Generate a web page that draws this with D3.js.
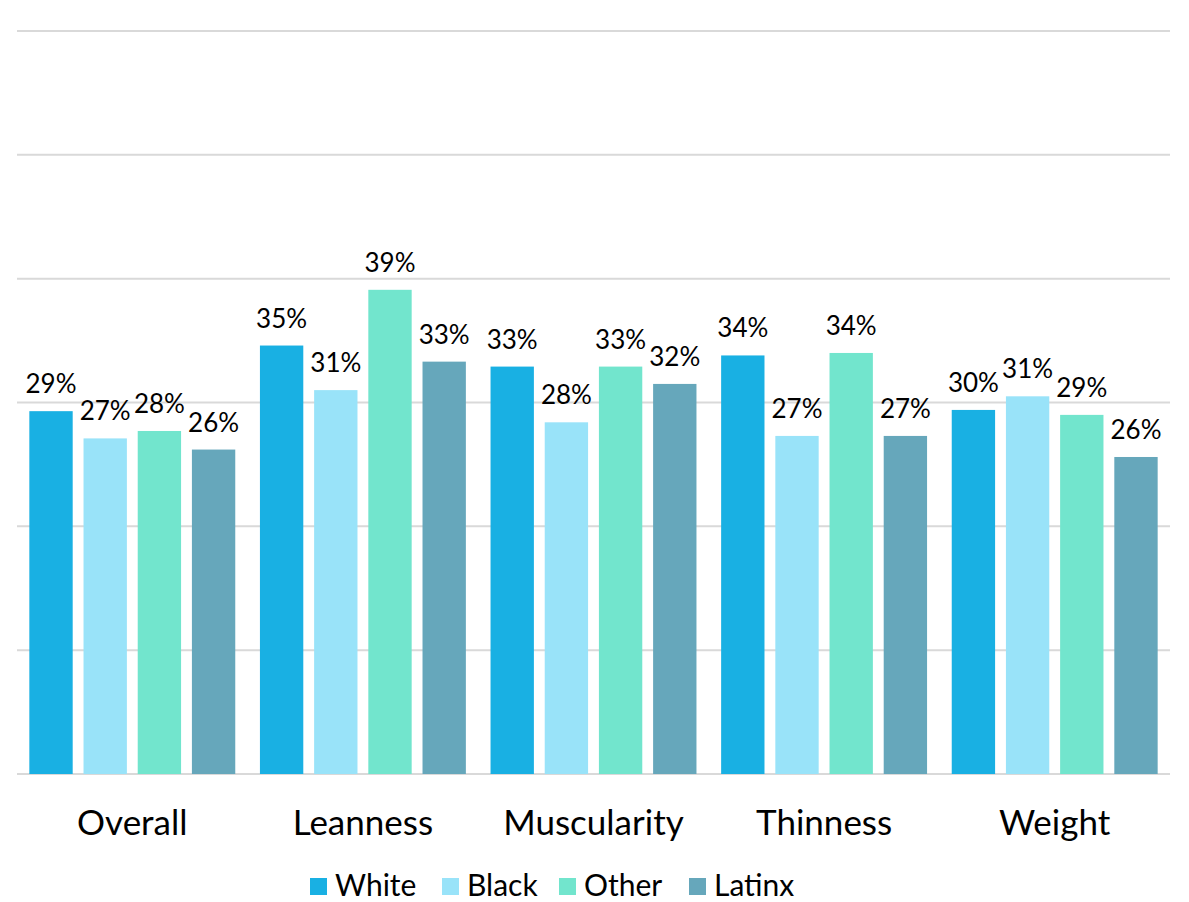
<!DOCTYPE html>
<html>
<head>
<meta charset="utf-8">
<script src="https://cdn.jsdelivr.net/npm/d3@7"></script>
<style>
  html, body { margin: 0; padding: 0; background: #fff; }
  svg { display: block; font-family: "Lato", "Noto Sans", sans-serif; }
</style>
</head>
<body>
<svg id="chart" width="1189" height="902"></svg>
<script>
const categories = ["Overall", "Leanness", "Muscularity", "Thinness", "Weight"];
const seriesNames = ["White", "Black", "Other", "Latinx"];
const seriesColors = ["#19B0E3", "#99E3F9", "#72E5CD", "#66A7BB"];
const valuesWhite  = [29.3, 34.6, 32.9, 33.8, 29.4];
const valuesBlack  = [27.1, 31.0, 28.4, 27.3, 30.5];
const valuesOther  = [27.7, 39.1, 32.9, 34.0, 29.0];
const valuesLatinx = [26.2, 33.3, 31.5, 27.3, 25.6];
const labelsWhite  = ["29%", "35%", "33%", "34%", "30%"];
const labelsBlack  = ["27%", "31%", "28%", "27%", "31%"];
const labelsOther  = ["28%", "39%", "33%", "34%", "29%"];
const labelsLatinx = ["26%", "33%", "32%", "27%", "26%"];
const yTicks = [0, 10, 20, 30, 40, 50, 60];

const seriesValues = [valuesWhite, valuesBlack, valuesOther, valuesLatinx];
const seriesLabels = [labelsWhite, labelsBlack, labelsOther, labelsLatinx];

const svg = d3.select("#chart");
const plotLeft = 17, plotRight = 1170, plotTop = 31, plotBottom = 774;

const y = d3.scaleLinear().domain([0, 60]).range([plotBottom, plotTop]);
const x0 = d3.scaleBand().domain(categories).range([plotLeft, plotRight]).padding(0);
const bw = x0.bandwidth();
const x1 = d3.scaleBand().domain(seriesNames)
  .range([bw * 0.0535, bw * 0.9465]).paddingInner(0.2).paddingOuter(0);

// gridlines
svg.append("g").selectAll("line").data(yTicks).join("line")
  .attr("x1", plotLeft).attr("x2", plotRight)
  .attr("y1", d => y(d)).attr("y2", d => y(d))
  .attr("stroke", "#d9d9d9").attr("stroke-width", 2);

// bars
const groups = svg.append("g").selectAll("g").data(categories).join("g")
  .attr("transform", c => `translate(${x0(c)},0)`);

const rowData = (c, ci) => seriesNames.map((s, si) => ({ s, si, v: seriesValues[si][ci], l: seriesLabels[si][ci] }));

groups.selectAll("rect").data(rowData).join("rect")
  .attr("x", d => x1(d.s))
  .attr("width", x1.bandwidth())
  .attr("y", d => y(d.v))
  .attr("height", d => y(0) - y(d.v))
  .attr("fill", d => seriesColors[d.si]);

groups.selectAll("text").data(rowData).join("text")
  .attr("x", d => x1(d.s) + x1.bandwidth() / 2)
  .attr("y", d => y(d.v) - 18)
  .attr("text-anchor", "middle")
  .attr("font-size", 26)
  .attr("fill", "#000")
  .text(d => d.l);

// x axis labels
const xAxis = d3.axisBottom(x0).tickSize(0).tickPadding(0);
const gx = svg.append("g").attr("transform", `translate(0,${plotBottom})`).call(xAxis);
gx.select(".domain").remove();
gx.selectAll("text")
  .attr("font-size", 35).attr("font-family", "Lato, 'Noto Sans', sans-serif")
  .attr("fill", "#000").attr("dy", 0).attr("y", 61);

// legend
const legendX = [310, 442, 559, 689];
const lg = svg.append("g").selectAll("g").data(seriesNames).join("g")
  .attr("transform", (d, i) => `translate(${legendX[i]},878)`);
lg.append("rect").attr("width", 17).attr("height", 17).attr("fill", (d, i) => seriesColors[i]);
lg.append("text").attr("x", 25).attr("y", 18).attr("font-size", 30).attr("fill", "#000").text(d => d);
</script>
</body>
</html>
